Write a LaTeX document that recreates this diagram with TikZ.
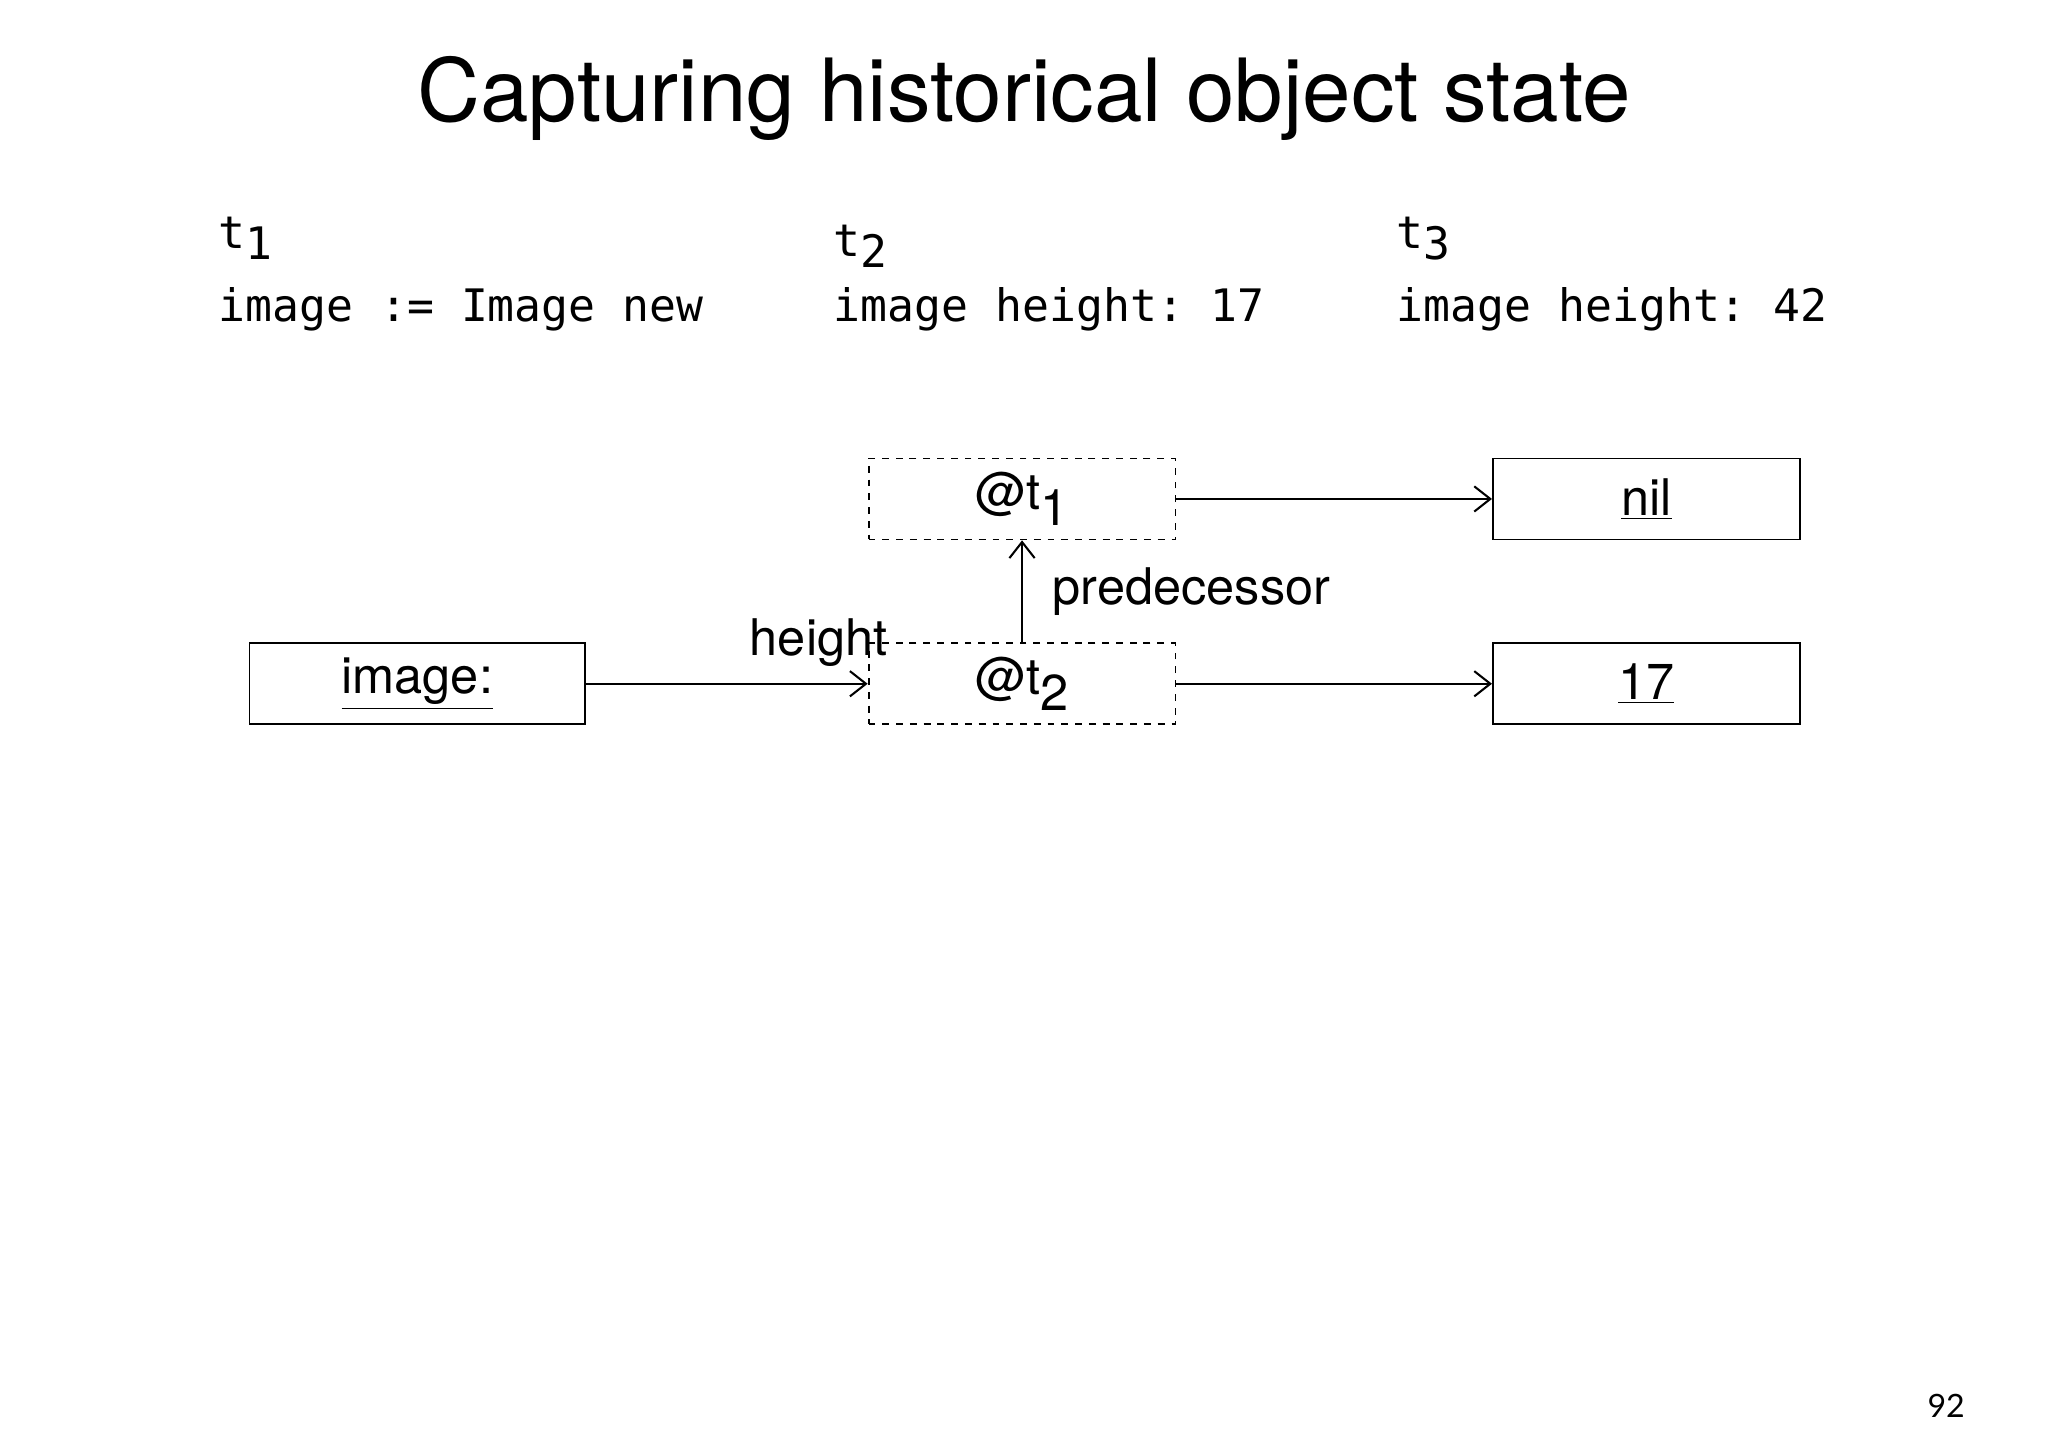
\documentclass[tikz,border=0pt]{standalone}
\usepackage{fontspec}
\setmainfont{TeX Gyre Heros}
\setmonofont{DejaVu Sans Mono}
\newfontfamily\pgnum{Lato}
\usetikzlibrary{arrows.meta}
\begin{document}
\begin{tikzpicture}[x=0.02cm,y=-0.02cm,
  obj/.style={draw,line width=0.8pt,minimum width=235*0.02cm,minimum height=62*0.02cm,inner sep=0pt,font=\fontsize{22}{26}\selectfont},
  slot/.style={obj,dashed},
  arr/.style={line width=0.9pt,-{Straight Barb[length=7pt,width=11pt]}},
  lbl/.style={font=\fontsize{22}{26}\selectfont,inner sep=0pt},
  code/.style={font=\ttfamily\fontsize{19.5}{23}\selectfont,anchor=base west,inner sep=0pt}]
\useasboundingbox (0,0) rectangle (1568,1109);
\node[font=\fontsize{38}{44}\selectfont,anchor=base] (title) at (784,93) {Capturing historical object state};
\node[code] (t1) at (167,190) {t\raisebox{-0.45ex}{1}};
\node[code] (c1) at (167,246) {image := Image new};
\node[code] (t2) at (638,196) {t\raisebox{-0.45ex}{2}};
\node[code] (c2) at (638,246) {image height: 17};
\node[code] (t3) at (1069,190) {t\raisebox{-0.45ex}{3}};
\node[code] (c3) at (1069,246) {image height: 42};
\node[obj,minimum width=257*0.02cm] (img) at (319.5,523.5) {\underline{image:}};
\node[slot] (a1) at (782.5,382) {@t\raisebox{-0.6ex}{1}};
\node[slot] (a2) at (782.5,523.5) {@t\raisebox{-0.6ex}{2}};
\node[obj] (nil) at (1260.5,382) {\underline{nil}};
\node[obj] (v17) at (1260.5,523.5) {\underline{17}};
\draw[arr] (img) -- node[lbl,above=7pt,xshift=40] {height} (a2);
\draw[arr] (a1) -- (nil);
\draw[arr] (a2) -- (v17);
\draw[arr] (a2) -- node[lbl,right=15pt,anchor=west,xshift=-2] {predecessor} (a1);
\node[font=\pgnum\fontsize{14}{16}\selectfont] (pg) at (1490,1076) {92};
\end{tikzpicture}
\end{document}
